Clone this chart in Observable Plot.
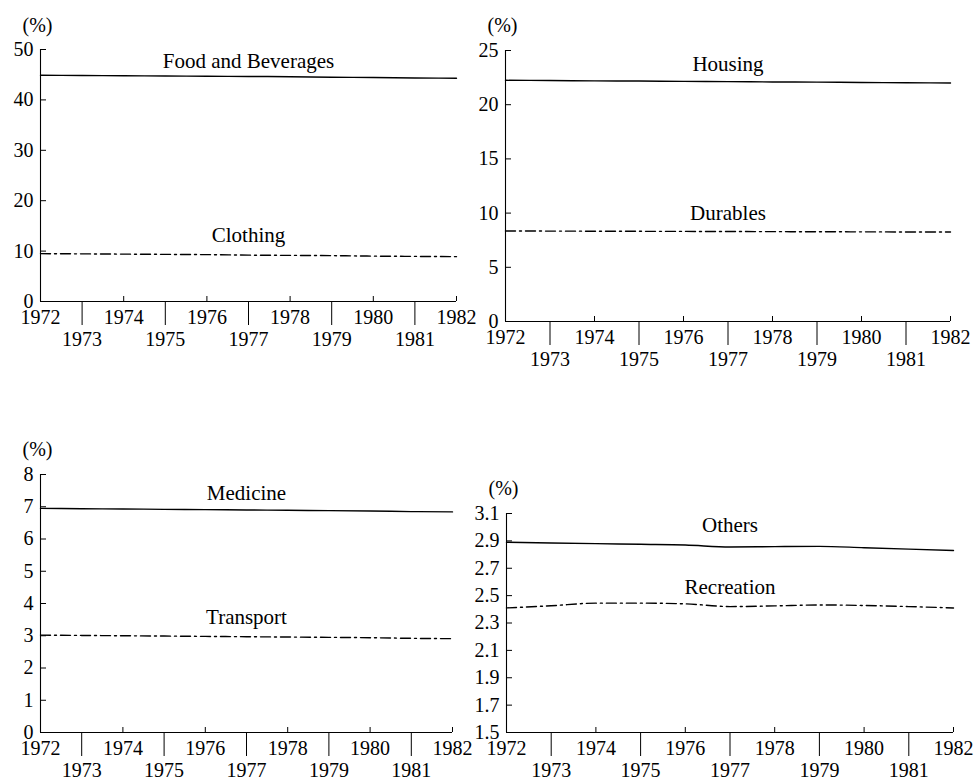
<!DOCTYPE html>
<html>
<head>
<meta charset="utf-8">
<script src="https://cdn.jsdelivr.net/npm/d3@7"></script>
<script src="https://cdn.jsdelivr.net/npm/@observablehq/plot@0.6"></script>
<style>
  body { margin: 0; background: #fff; }
  #wrap { position: relative; width: 975px; height: 780px; background: #fff; font-family: "Liberation Serif", serif; }
  #wrap > div { position: absolute; }
  #wrap svg, #wrap svg text, #wrap svg g { font-family: "Liberation Serif", serif !important; }
</style>
</head>
<body>
<div id="wrap"></div>
<script>
// ---- data ----
const years = [1972, 1973, 1974, 1975, 1976, 1977, 1978, 1979, 1980, 1981, 1982];
const evenYears = [1972, 1974, 1976, 1978, 1980, 1982];
const oddYears = [1973, 1975, 1977, 1979, 1981];

const foodAndBeverages = [44.9, 44.85, 44.8, 44.75, 44.7, 44.65, 44.6, 44.5, 44.45, 44.35, 44.3];
const clothing = [9.5, 9.45, 9.4, 9.35, 9.3, 9.2, 9.15, 9.1, 9.0, 8.95, 8.9];
const housing = [22.25, 22.23, 22.2, 22.18, 22.15, 22.13, 22.1, 22.08, 22.05, 22.03, 22.0];
const durables = [8.35, 8.34, 8.33, 8.32, 8.31, 8.3, 8.29, 8.28, 8.27, 8.26, 8.25];
const medicine = [6.95, 6.94, 6.93, 6.92, 6.91, 6.9, 6.89, 6.88, 6.87, 6.85, 6.84];
const transport = [3.02, 3.01, 3.0, 2.99, 2.98, 2.97, 2.96, 2.95, 2.94, 2.92, 2.91];
const others = [2.89, 2.885, 2.88, 2.875, 2.87, 2.855, 2.858, 2.86, 2.85, 2.84, 2.83];
const recreation = [2.41, 2.426, 2.445, 2.445, 2.44, 2.42, 2.425, 2.432, 2.428, 2.42, 2.41];

const yTicks1 = [0, 10, 20, 30, 40, 50];
const yTicks2 = [0, 5, 10, 15, 20, 25];
const yTicks3 = [0, 1, 2, 3, 4, 5, 6, 7, 8];
const yTicks4 = [1.5, 1.7, 1.9, 2.1, 2.3, 2.5, 2.7, 2.9, 3.1];

const unitLabel = "(%)";

// ---- drawing ----
const FONT = "Liberation Serif";
const wrap = document.getElementById("wrap");

function panel(cfg) {
  const solidData = years.map((year, i) => ({year, value: cfg.solid[i]}));
  const dashedData = years.map((year, i) => ({year, value: cfg.dashed[i]}));
  const mid = 5; // 1977, centre of the span
  const yDomain = [cfg.yTicks[0], cfg.yTicks[cfg.yTicks.length - 1]];
  const plot = Plot.plot({
    width: cfg.width,
    height: cfg.height,
    marginLeft: cfg.m[0],
    marginRight: cfg.m[1],
    marginTop: cfg.m[2],
    marginBottom: cfg.m[3],
    style: {background: "transparent", fontFamily: FONT, fontSize: "20px", color: "#000", overflow: "visible"},
    x: {domain: [years[0], years[years.length - 1]]},
    y: {domain: yDomain},
    marks: [
      Plot.ruleX([years[0]], {stroke: "#000", strokeWidth: 1.1}),
      Plot.ruleY([yDomain[0]], {stroke: "#000", strokeWidth: 1.1}),
      Plot.axisY({ticks: cfg.yTicks, tickFormat: cfg.yFormat, tickSize: -6, tickPadding: 13, label: null, fontSize: 20, fontFamily: FONT, stroke: "#000"}),
      Plot.axisX({ticks: evenYears, tickFormat: d3.format("d"), tickSize: -5, tickPadding: 13.3, label: null, fontSize: 20, fontFamily: FONT, stroke: "#000"}),
      Plot.axisX({ticks: oddYears, tickFormat: d3.format("d"), tickSize: 24, tickPadding: 5.8, label: null, fontSize: 20, fontFamily: FONT, stroke: "#000"}),
      Plot.line(solidData, {x: "year", y: "value", stroke: "#000", strokeWidth: 1.4, curve: "monotone-x"}),
      Plot.line(dashedData, {x: "year", y: "value", stroke: "#000", strokeWidth: 1.4, strokeDasharray: "10,4,2,4", curve: "monotone-x"}),
      Plot.text([solidData[mid]], {x: "year", y: "value", text: () => cfg.solidName, dy: cfg.solidDy, lineAnchor: "bottom", fontSize: 21, fontFamily: FONT, fill: "#000"}),
      Plot.text([dashedData[mid]], {x: "year", y: "value", text: () => cfg.dashedName, dy: cfg.dashedDy, lineAnchor: "bottom", fontSize: 21, fontFamily: FONT, fill: "#000"}),
      Plot.text([unitLabel], {frameAnchor: "top-left", dx: -18, dy: cfg.unitDy, textAnchor: "start", lineAnchor: "middle", fontSize: 20, fontFamily: FONT, fill: "#000"})
    ]
  });
  const div = document.createElement("div");
  div.style.left = cfg.left + "px";
  div.style.top = cfg.top + "px";
  div.appendChild(plot);
  wrap.appendChild(div);
}

panel({left: 0, top: 0, width: 480, height: 380, m: [40, 24, 49, 79],
  yTicks: yTicks1, yFormat: d3.format("d"),
  solid: foodAndBeverages, dashed: clothing,
  solidName: "Food and Beverages", dashedName: "Clothing",
  solidDy: -8, dashedDy: -13.5, unitDy: -24});

panel({left: 460, top: 0, width: 515, height: 380, m: [45, 25, 50, 59],
  yTicks: yTicks2, yFormat: d3.format("d"),
  solid: housing, dashed: durables,
  solidName: "Housing", dashedName: "Durables",
  solidDy: -10.5, dashedDy: -11.6, unitDy: -25});

panel({left: 0, top: 420, width: 480, height: 360, m: [40, 28, 54, 48],
  yTicks: yTicks3, yFormat: d3.format("d"),
  solid: medicine, dashed: transport,
  solidName: "Medicine", dashedName: "Transport",
  solidDy: -10, dashedDy: -12.5, unitDy: -25});

panel({left: 460, top: 420, width: 515, height: 360, m: [46, 22, 93, 48],
  yTicks: yTicks4, yFormat: d3.format(".1f"),
  solid: others, dashed: recreation,
  solidName: "Others", dashedName: "Recreation",
  solidDy: -14.6, dashedDy: -12.7, unitDy: -25});
</script>
</body>
</html>
